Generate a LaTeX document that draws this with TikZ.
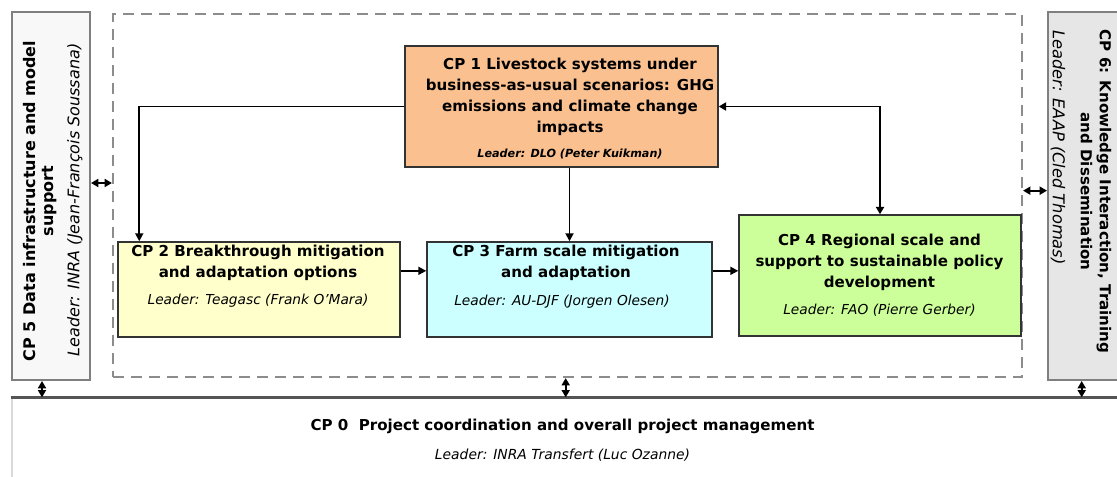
\documentclass[tikz,border=0pt]{standalone}
\usepackage{fontspec}
\setmainfont{DejaVu Sans}
\usetikzlibrary{arrows.meta,calc}
\definecolor{cpone}{HTML}{FAC090}
\definecolor{cptwo}{HTML}{FFFFCC}
\definecolor{cpthree}{HTML}{CCFFFF}
\definecolor{cpfour}{HTML}{CCFF99}
\definecolor{sidefill}{HTML}{E6E6E6}
\definecolor{sidefillb}{HTML}{F8F8F8}
\definecolor{sideline}{HTML}{7F7F7F}
\definecolor{dashgray}{HTML}{8C8C8C}
\definecolor{boxline}{HTML}{333333}
\definecolor{cpzeroline}{HTML}{555555}
\definecolor{cpzeroside}{HTML}{D9D9D9}
\tikzset{
  cpbox/.style={draw=boxline, line width=1.1pt, inner sep=0pt},
  sidebox/.style={draw=sideline, line width=1.5pt, inner sep=0pt},
  dashbox/.style={draw=dashgray, line width=1.6pt, dash pattern=on 8.25pt off 5.25pt, inner sep=0pt},
  title/.style={font=\fontsize{11.3}{15.75}\selectfont\bfseries, align=center, inner sep=0pt},
  lead/.style={font=\fontsize{10.3}{12}\selectfont\itshape, inner sep=0pt},
  arr/.style={line width=1.4pt, -{Triangle[length=6pt,width=6pt]}},
  darr/.style={line width=1.4pt, {Triangle[length=5.5pt,width=6pt]}-{Triangle[length=5.5pt,width=6pt]}}
}
\begin{document}
\begin{tikzpicture}[x=0.75pt,y=-0.75pt]
\useasboundingbox (0,0) rectangle (1117,477);
% CP0 background
\node[draw=cpzeroside, line width=1pt, fill=white, inner sep=0pt, minimum width=834.75pt, minimum height=69pt] (cp0) at (568.5,444) {};
\draw[cpzeroline, line width=1.8pt] (cp0.north west) -- (cp0.north east);
% side boxes
\node[sidebox, fill=sidefillb, minimum width=58.5pt, minimum height=276pt] (cp5) at (51,196) {};
\node[sidebox, fill=sidefill, minimum width=57.75pt, minimum height=276pt] (cp6) at (1086.5,196) {};
% dashed frame
\node[dashbox, minimum width=681.75pt, minimum height=272.25pt] (dash) at (567.5,195.5) {};
% CP boxes
\node[cpbox, fill=cpone, minimum width=234.75pt, minimum height=90.75pt] (cp1) at (561.5,106.5) {};
\node[cpbox, fill=cptwo, minimum width=211.5pt, minimum height=71.25pt] (cp2) at (259,289.5) {};
\node[cpbox, fill=cpthree, minimum width=213.75pt, minimum height=71.25pt] (cp3) at (569.5,289.5) {};
\node[cpbox, fill=cpfour, minimum width=211.5pt, minimum height=90.75pt] (cp4) at (880,275.5) {};
% texts
\node[title] (t1) at (570,97) {CP 1 Livestock systems under\\business-as-usual scenarios: GHG\\emissions and climate change\\impacts};
\node[lead, font=\fontsize{8.4}{10}\selectfont\bfseries\itshape] (l1) at (570,154) {Leader: DLO (Peter Kuikman)};
\node[title] (t2) at (258,262.5) {CP 2 Breakthrough mitigation\\and adaptation options};
\node[lead] (l2) at (258,301) {Leader: Teagasc (Frank O'Mara)};
\node[title] (t3) at (566,262.5) {CP 3 Farm scale mitigation\\and adaptation};
\node[lead] (l3) at (562,301.5) {Leader: AU-DJF (Jorgen Olesen)};
\node[title] (t4) at (879.5,262.5) {CP 4 Regional scale and\\support to sustainable policy\\development};
\node[lead] (l4) at (879.5,310) {Leader: FAO (Pierre Gerber)};
\node[title, font=\fontsize{12}{13.8}\selectfont\bfseries, rotate=90] (t5) at (40,201) {CP 5 Data infrastructure and model\\support};
\node[lead, font=\fontsize{12}{14}\selectfont\itshape, rotate=90] (l5) at (75,200) {Leader: INRA (Jean-François Soussana)};
\node[title, rotate=-90, font=\fontsize{11.3}{14.25}\selectfont\bfseries] (t6) at (1096,191.5) {CP 6: Knowledge Interaction, Training\\and Dissemination};
\node[lead, rotate=-90, anchor=west, font=\fontsize{12.2}{13}\selectfont\itshape] (l6) at (1058,30) {Leader: EAAP (Cled Thomas)};
\node[title, font=\fontsize{11.3}{13}\selectfont\bfseries] (t0) at (562.5,426) {CP 0\ \ Project coordination and overall project management};
\node[lead, font=\fontsize{10.4}{12}\selectfont\itshape] (l0) at (562.5,455) {Leader: INRA Transfert (Luc Ozanne)};
% connectors
\draw[arr] (cp1.west) -| ([xshift=16.5pt]cp2.north west);
\draw[darr] (cp1.east) -| (cp4.north);
\draw[arr] (cp1.south -| cp3.north) -- (cp3.north);
\draw[arr] ([yshift=14pt]cp2.east) -- ([yshift=14pt]cp3.west);
\coordinate (c34) at ([yshift=14pt]cp3.east);
\draw[arr] (c34) -- (c34 -| cp4.west);
\coordinate (c5) at ([yshift=9.75pt]cp5.east);
\draw[darr] (c5) -- (c5 -| dash.west);
\coordinate (c6) at ([yshift=4pt]cp6.west);
\draw[darr] (c6 -| dash.east) -- (c6);
\coordinate (v5) at ([xshift=-6.75pt]cp5.south);
\draw[darr] (v5) -- (v5 |- cp0.north);
\coordinate (vd) at ([xshift=-1.35pt]dash.south);
\draw[darr] (vd) -- (vd |- cp0.north);
\coordinate (v6) at ([xshift=-3.6pt]cp6.south);
\draw[darr] (v6) -- (v6 |- cp0.north);
\end{tikzpicture}
\end{document}
